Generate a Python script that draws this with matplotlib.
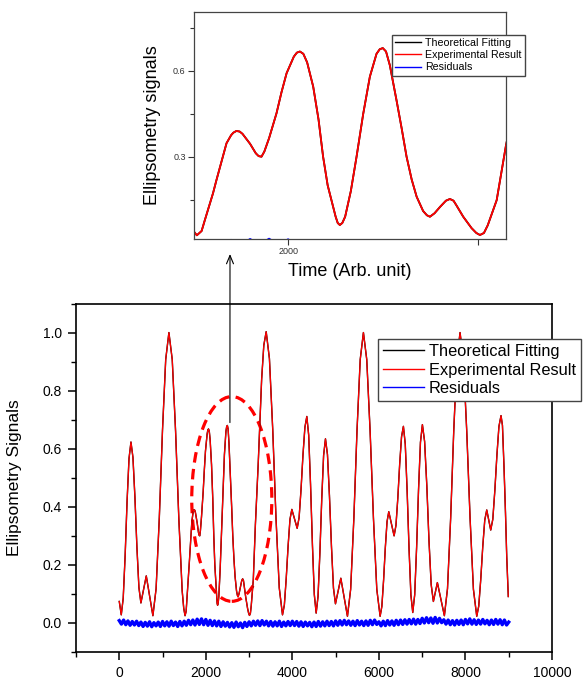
import numpy as np
import matplotlib.pyplot as plt
from matplotlib.patches import Ellipse
from matplotlib.ticker import MultipleLocator, FixedLocator

plt.rcParams['font.family'] = ['Liberation Sans', 'DejaVu Sans']

# signal (time in arb. units)
time = [0, 46, 91, 136, 180, 225, 270, 316, 362, 408, 454, 500, 562, 624, 700, 777,
        851, 925, 999, 1073, 1147, 1224, 1301, 1377, 1454, 1490, 1520, 1545, 1562,
        1605, 1623, 1676, 1700, 1712, 1728, 1745, 1760, 1800, 1830, 1845, 1860, 1875,
        1900, 1939, 1965, 1992, 2030, 2046, 2062, 2080, 2100, 2132, 2160, 2184, 2208,
        2228, 2250, 2261, 2272, 2285, 2300, 2330, 2360, 2395, 2430, 2465, 2482, 2498,
        2515, 2535, 2570, 2597, 2623, 2650, 2676, 2710, 2730, 2746, 2770, 2800, 2830,
        2851, 2870, 2885, 2921, 2965, 2990, 3009, 3030, 3050, 3097, 3146, 3210, 3290,
        3340, 3395, 3470, 3546, 3621, 3697, 3772, 3815, 3858, 3902, 3945, 3988, 4050,
        4111, 4156, 4200, 4245, 4290, 4334, 4377, 4420, 4464, 4507, 4550, 4593, 4636,
        4679, 4722, 4765, 4811, 4857, 4904, 4950, 4996, 5058, 5120, 5196, 5273, 5347,
        5421, 5494, 5568, 5642, 5719, 5796, 5874, 5951, 6028, 6068, 6108, 6148, 6188,
        6228, 6290, 6351, 6394, 6437, 6480, 6523, 6566, 6609, 6652, 6696, 6739, 6782,
        6827, 6871, 6916, 6960, 7005, 7056, 7107, 7157, 7208, 7259, 7305, 7351, 7432,
        7513, 7585, 7658, 7730, 7803, 7875, 7952, 8029, 8107, 8184, 8261, 8307, 8353,
        8400, 8446, 8492, 8538, 8584, 8632, 8679, 8727, 8774, 8822, 8855, 8891, 8925,
        8954, 8990]
signal = [0.074, 0.028, 0.085, 0.233, 0.418, 0.566, 0.623, 0.570, 0.432, 0.260, 0.122,
          0.069, 0.115, 0.162, 0.094, 0.025, 0.118, 0.361, 0.664, 0.907, 1.0, 0.907,
          0.661, 0.356, 0.110, 0.050, 0.025, 0.040, 0.078, 0.172, 0.218, 0.347, 0.375,
          0.384, 0.390, 0.388, 0.380, 0.345, 0.312, 0.302, 0.300, 0.318, 0.365, 0.452,
          0.525, 0.592, 0.650, 0.664, 0.668, 0.660, 0.630, 0.545, 0.430, 0.300, 0.200,
          0.148, 0.090, 0.068, 0.061, 0.068, 0.090, 0.180, 0.300, 0.450, 0.580, 0.660,
          0.676, 0.680, 0.668, 0.620, 0.498, 0.400, 0.300, 0.220, 0.160, 0.110, 0.095,
          0.090, 0.102, 0.125, 0.146, 0.152, 0.146, 0.130, 0.090, 0.050, 0.033, 0.026,
          0.033, 0.060, 0.148, 0.340, 0.545, 0.839, 0.956, 1.003, 0.910, 0.667, 0.364,
          0.121, 0.028, 0.062, 0.153, 0.266, 0.357, 0.391, 0.358, 0.326, 0.363, 0.459,
          0.578, 0.674, 0.711, 0.647, 0.477, 0.268, 0.098, 0.034, 0.091, 0.241, 0.427,
          0.577, 0.634, 0.580, 0.438, 0.262, 0.120, 0.066, 0.110, 0.154, 0.089, 0.023,
          0.116, 0.360, 0.663, 0.907, 1.0, 0.907, 0.663, 0.360, 0.116, 0.023, 0.057,
          0.147, 0.259, 0.349, 0.383, 0.342, 0.300, 0.336, 0.430, 0.547, 0.641, 0.677,
          0.616, 0.456, 0.257, 0.097, 0.036, 0.097, 0.259, 0.460, 0.622, 0.683, 0.625,
          0.473, 0.284, 0.132, 0.074, 0.106, 0.139, 0.082, 0.025, 0.118, 0.361, 0.664,
          0.907, 1.0, 0.907, 0.663, 0.360, 0.116, 0.023, 0.058, 0.149, 0.263, 0.354,
          0.389, 0.355, 0.320, 0.357, 0.456, 0.578, 0.677, 0.714, 0.680, 0.537, 0.380,
          0.228, 0.091]
theory = list(signal)

res_time = np.arange(0, 9001, 50)
residuals = [
    0.008, -0.004, 0.010, -0.006, 0.007, -0.008, 0.005, -0.007, 0.006, -0.009,
    0.003, -0.012, 0.002, -0.011, 0.004, -0.013, 0.001, -0.010, 0.003, -0.012,
    0.005, -0.010, 0.004, -0.011, 0.006, -0.009, 0.003, -0.012, 0.005, -0.010,
    0.006, -0.008, 0.009, -0.006, 0.010, -0.007, 0.013, -0.005, 0.014, -0.006,
    0.012, -0.008, 0.009, -0.009, 0.007, -0.010, 0.006, -0.012, 0.004, -0.011,
    0.002, -0.014, 0.001, -0.015, 0.003, -0.013, 0.000, -0.016, 0.002, -0.012,
    0.004, -0.010, 0.006, -0.008, 0.007, -0.009, 0.008, -0.007, 0.006, -0.010,
    0.005, -0.011, 0.004, -0.010, 0.006, -0.012, 0.003, -0.010, 0.005, -0.009,
    0.006, -0.009, 0.005, -0.011, 0.004, -0.012, 0.003, -0.010, 0.002, -0.013,
    0.003, -0.012, 0.005, -0.011, 0.004, -0.010, 0.006, -0.009, 0.005, -0.010,
    0.007, -0.008, 0.008, -0.007, 0.009, -0.006, 0.007, -0.008, 0.006, -0.009,
    0.008, -0.007, 0.006, -0.009, 0.007, -0.008, 0.009, -0.006, 0.010, -0.005,
    0.004, -0.010, 0.006, -0.009, 0.008, -0.007, 0.007, -0.008, 0.009, -0.006,
    0.010, -0.005, 0.011, -0.004, 0.012, -0.003, 0.013, -0.004, 0.012, -0.002,
    0.016, 0.000, 0.018, 0.001, 0.017, -0.001, 0.019, 0.000, 0.016, 0.001,
    0.011, -0.004, 0.010, -0.006, 0.008, -0.007, 0.009, -0.005, 0.010, -0.006,
    0.012, -0.003, 0.014, -0.004, 0.011, -0.005, 0.010, -0.004, 0.012, -0.003,
    0.009, -0.006, 0.010, -0.005, 0.012, -0.004, 0.011, -0.006, 0.010, -0.007,
    0.003]

labels = ['Theoretical Fitting', 'Experimental Result', 'Residuals']

fig = plt.figure(figsize=(5.83, 6.8), dpi=100)
W, H = 583, 680

# ---- main plot ----
ax = fig.add_axes([76 / W, 1 - 652 / H, 476 / W, 348.5 / H])
ax.plot(time, theory, color='black', lw=1.0, label=labels[0])
ax.plot(time, signal, color='red', lw=0.9, label=labels[1])
ax.plot(res_time, residuals, color='blue', lw=2.4, label=labels[2])

ax.set_xlim(-1000, 10000)
ax.set_ylim(-0.1, 1.1)
ax.xaxis.set_major_locator(FixedLocator([0, 2000, 4000, 6000, 8000, 10000]))
ax.xaxis.set_minor_locator(MultipleLocator(1000))
ax.yaxis.set_major_locator(FixedLocator([0.0, 0.2, 0.4, 0.6, 0.8, 1.0]))
ax.yaxis.set_minor_locator(MultipleLocator(0.1))
ax.yaxis.set_major_formatter(plt.FuncFormatter(lambda v, p: f'{v:.1f}'))
ax.tick_params(which='major', direction='out', length=6, width=1.1, labelsize=10, pad=4)
ax.tick_params(which='minor', direction='out', length=3.5, width=1.0)
for s in ax.spines.values():
    s.set_linewidth(1.2)
ax.set_ylabel('Ellipsometry Signals', fontsize=12.5)
ax.yaxis.set_label_coords(-0.113, 0.5)

ax.add_patch(Ellipse((2600, 0.427), 1850, 0.705, fill=False, edgecolor='red',
                     lw=2.3, linestyle=(0, (3.3, 2))))

leg = ax.legend(loc='upper left', bbox_to_anchor=(378 / W, 1 - 339 / H),
                bbox_transform=fig.transFigure, fontsize=11.8, fancybox=False,
                edgecolor='#444444', framealpha=1, labelspacing=0.22, handlelength=2.5,
                handletextpad=0.3, borderpad=0.3, borderaxespad=0)
for line in leg.get_lines():
    line.set_linewidth(1.0)

ax.annotate('', xy=(230 / W, 1 - 254 / H), xycoords='figure fraction',
            xytext=(2557, 0.69), textcoords='data',
            arrowprops=dict(arrowstyle='->,head_length=0.6,head_width=0.25',
                            color='black', lw=0.8, shrinkA=0, shrinkB=0))

# ---- inset ----
axi = fig.add_axes([194 / W, 1 - 239 / H, 312 / W, 227.5 / H])
axi.plot(time, theory, color='black', lw=1.3, label=labels[0])
axi.plot(time, signal, color='red', lw=1.3, label=labels[1])
axi.plot(res_time, residuals, color='blue', lw=1.0, label=labels[2])
axi.set_xlim(1505, 3146)
axi.set_ylim(0.012, 0.808)
axi.set_xticks([2000, 3000])
axi.set_xticklabels(['2000', ''])
axi.set_yticks([0.3, 0.6])
axi.yaxis.set_minor_locator(FixedLocator([0.15, 0.45, 0.75]))
axi.tick_params(which='major', direction='out', length=4, width=0.8,
                labelsize=6.5, colors='#333333', pad=2)
axi.tick_params(which='minor', direction='out', length=3, width=0.8, colors='#333333')
for s in axi.spines.values():
    s.set_linewidth(0.9)
    s.set_color('#444444')
axi.set_ylabel('Ellipsometry signals', fontsize=13)
axi.yaxis.set_label_coords(-0.105, 0.5)
axi.set_xlabel('Time (Arb. unit)', fontsize=13)
axi.xaxis.set_label_coords(0.5, -0.105)

leg2 = axi.legend(loc='upper left', bbox_to_anchor=(392 / W, 1 - 34.5 / H),
                  bbox_transform=fig.transFigure, fontsize=7.7, fancybox=False,
                  edgecolor='#444444', framealpha=1, labelspacing=0.22, handlelength=2.4,
                  handletextpad=0.4, borderpad=0.3, borderaxespad=0)
for line in leg2.get_lines():
    line.set_linewidth(1.0)

fig.savefig('out.png', dpi=100)
